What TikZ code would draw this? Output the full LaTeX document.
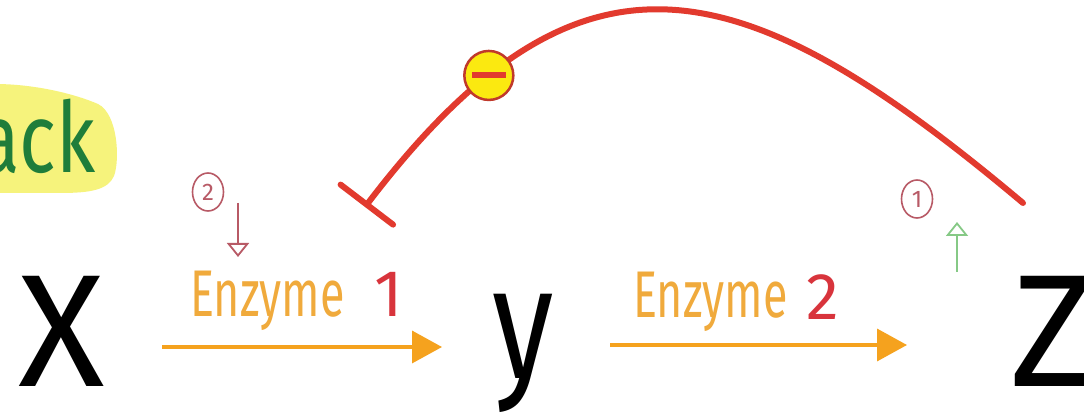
\documentclass[tikz,border=0pt]{standalone}
\usepackage{fontspec}
\usetikzlibrary{arrows.meta,shapes.geometric}
\newfontfamily\hand{Fira Sans}
\definecolor{arcred}{HTML}{E23A2E}
\definecolor{arrorange}{HTML}{F5A21E}
\definecolor{enzorange}{HTML}{F0AA3C}
\definecolor{numred}{HTML}{D8343C}
\definecolor{circred}{HTML}{B85A66}
\definecolor{upgreen}{HTML}{86C986}
\definecolor{ackgreen}{HTML}{1F7D3A}
\definecolor{hlyellow}{HTML}{F6F37C}
\definecolor{inhyellow}{HTML}{FBE910}
\definecolor{inhborder}{HTML}{C0392B}
\tikzset{
  bigletter/.style={inner sep=0pt, anchor=base west, font=\hand\fontsize{160}{160}\selectfont},
  enzlabel/.style={inner sep=0pt, anchor=base west, text=enzorange, xscale=0.68, font=\hand\fontsize{66}{66}\selectfont},
  numlabel/.style={inner sep=0pt, anchor=base west, text=numred, font=\hand\fontsize{66}{66}\selectfont},
  reaction/.style={draw=arrorange, line width=3.5pt, -{Triangle[length=30pt,width=32pt]}},
  circnum/.style={ellipse, draw=circred, line width=1.6pt, text=circred, inner sep=0pt, minimum width=31pt, minimum height=38pt, font=\hand\fontsize{24}{24}\selectfont},
  hint/.style={line width=1.8pt, -{Triangle[open,length=14pt,width=22pt,line width=1.8pt]}},
  inhibitor/.style={circle, fill=inhyellow, draw=inhborder, line width=2.5pt, minimum size=49pt, inner sep=0pt}
}
\begin{document}
\begin{tikzpicture}[x=1pt,y=-1pt]
\useasboundingbox (0,0) rectangle (1084,419);
\fill[white] (0,0) rectangle (1084,419);
% highlight blob
\fill[hlyellow] (-5,84) .. controls (30,84) and (70,92) .. (98,104)
  .. controls (118,114) and (120,160) .. (114,176)
  .. controls (108,190) and (90,193) .. (60,193) -- (-5,193) -- cycle;
\node[inner sep=0pt, anchor=base west, text=ackgreen, xscale=0.78, font=\hand\fontsize{98}{98}\selectfont] (ack) at (-22,173) {ack};
% big letters
\node[bigletter] (X) at (18,387) {X};
\node[bigletter, xscale=0.78] (Y) at (492,378) {y};
\node[bigletter] (Z) at (1010,387) {Z};
% arrows
\coordinate (a1s) at (162,347);
\coordinate (a1e) at (442,347);
\coordinate (a2s) at (610,345);
\coordinate (a2e) at (907,345);
\draw[reaction] (a1s) -- (a1e);
\draw[reaction] (a2s) -- (a2e);
% labels
\node[enzlabel] (enz1) at (190,317) {Enzyme};
\node[numlabel] (n1) at (374,317) {1};
\node[enzlabel] (enz2) at (633,318) {Enzyme};
\node[numlabel] (n2) at (806,320) {2};
% hints
\node[circnum] (c2) at (208,192) {2};
\node[circnum] (c1) at (917,199) {1};
\coordinate (d1) at (238,203);
\coordinate (d2) at (238,257);
\draw[hint, draw=circred] (d1) -- (d2);
\coordinate (g1) at (957,272);
\coordinate (g2) at (957,222);
\draw[hint, draw=upgreen] (g1) -- (g2);
% feedback arc
\coordinate (fbs) at (1023,203);
\coordinate (fbe) at (365,207);
\draw[arcred, line width=6pt, line cap=round, -{Bar[width=66pt,line cap=round]}]
  (fbs) .. controls (740,-35) and (580,-75) .. (fbe)
  node[pos=0.80, inhibitor] (inh) {\textcolor{arcred}{\rule[-3pt]{34pt}{6pt}}};
\end{tikzpicture}
\end{document}
